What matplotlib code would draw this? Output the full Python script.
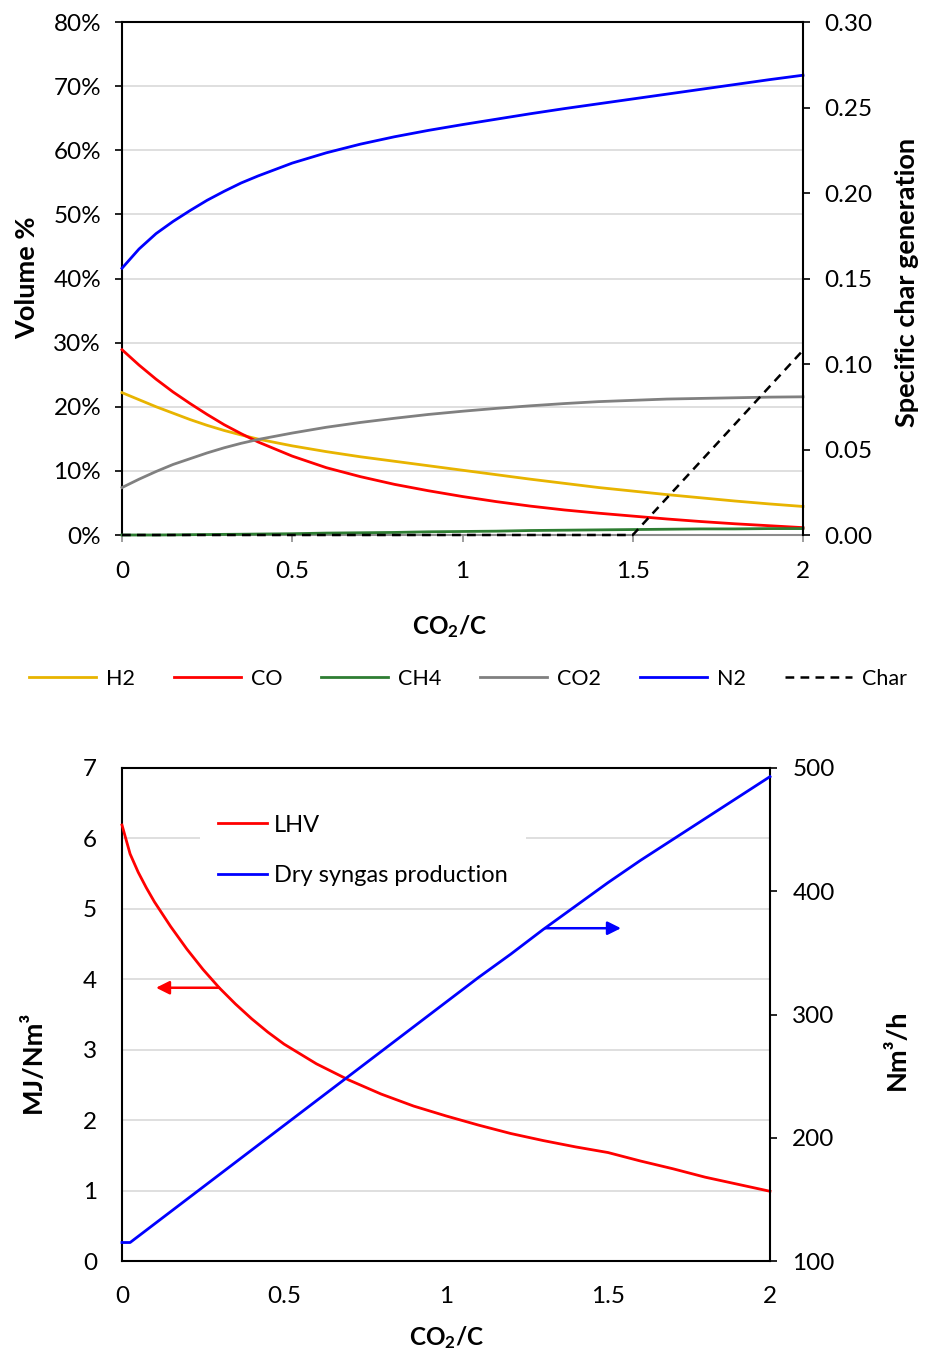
import matplotlib
matplotlib.use("Agg")
import matplotlib.pyplot as plt
from matplotlib.ticker import FixedLocator, FuncFormatter

plt.rcParams['font.family'] = ['Lato', 'DejaVu Sans']
plt.rcParams['mathtext.fontset'] = 'custom'
plt.rcParams['mathtext.rm'] = 'Lato'
plt.rcParams['mathtext.bf'] = 'Lato:bold'
plt.rcParams['mathtext.it'] = 'Lato:italic'

# ---------------- data: top chart ----------------
ratio = [0, 0.05, 0.1, 0.15, 0.2, 0.25, 0.3, 0.35, 0.4, 0.5, 0.6, 0.7, 0.8, 0.9, 1.0,
         1.1, 1.2, 1.3, 1.4, 1.5, 1.6, 1.7, 1.8, 1.9, 2.0]
h2 = [22.2, 21.1, 20.0, 19.0, 18.0, 17.1, 16.3, 15.6, 14.95, 13.9, 13.0, 12.2, 11.5, 10.8, 10.1,
      9.4, 8.7, 8.05, 7.4, 6.85, 6.3, 5.8, 5.3, 4.85, 4.45]
co = [28.9, 26.5, 24.3, 22.3, 20.5, 18.8, 17.2, 15.8, 14.5, 12.3, 10.5, 9.1, 7.9, 6.9, 6.0,
      5.2, 4.5, 3.9, 3.4, 2.95, 2.5, 2.1, 1.75, 1.45, 1.15]
ch4 = [0.0, 0.0, 0.0, 0.02, 0.05, 0.07, 0.1, 0.12, 0.15, 0.2, 0.3, 0.35, 0.4, 0.5, 0.55,
       0.6, 0.7, 0.75, 0.8, 0.85, 0.9, 0.95, 0.95, 1.0, 1.0]
co2 = [7.4, 8.7, 9.9, 11.0, 11.9, 12.8, 13.6, 14.3, 14.9, 15.9, 16.8, 17.55, 18.2, 18.8, 19.3,
       19.75, 20.15, 20.5, 20.8, 21.0, 21.2, 21.3, 21.4, 21.5, 21.55]
n2 = [41.6, 44.6, 47.0, 48.9, 50.6, 52.2, 53.6, 54.9, 56.0, 58.0, 59.6, 60.95, 62.1, 63.1, 64.0,
      64.85, 65.7, 66.5, 67.25, 68.0, 68.75, 69.5, 70.25, 71.0, 71.7]
char = [0, 0, 0, 0, 0, 0, 0, 0, 0, 0, 0, 0, 0, 0, 0,
        0, 0, 0, 0, 0, 0.0216, 0.0432, 0.0648, 0.0864, 0.108]

left_ticks_top = [0, 10, 20, 30, 40, 50, 60, 70, 80]
right_ticks_top = [0.00, 0.05, 0.10, 0.15, 0.20, 0.25, 0.30]
x_ticks = [0, 0.5, 1, 1.5, 2]
x_tick_labels = ['0', '0.5', '1', '1.5', '2']

# ---------------- data: bottom chart ----------------
ratio_b = [0, 0.025, 0.05, 0.075, 0.1, 0.15, 0.2, 0.25, 0.3, 0.35, 0.4, 0.45, 0.5, 0.6, 0.7,
           0.8, 0.9, 1.0, 1.1, 1.2, 1.3, 1.4, 1.5, 1.6, 1.7, 1.8, 1.9, 2.0]
lhv = [6.19, 5.78, 5.52, 5.30, 5.10, 4.75, 4.43, 4.14, 3.88, 3.65, 3.44, 3.25, 3.08, 2.80, 2.57,
       2.37, 2.20, 2.06, 1.93, 1.81, 1.71, 1.62, 1.54, 1.42, 1.31, 1.19, 1.09, 0.99]
syngas = [115, 115, 120, 125, 130, 140, 150, 160, 170, 180, 190, 200, 210, 230, 250,
          270, 290, 310, 330, 349, 369, 388, 407, 425, 442, 459, 476, 493]
left_ticks_bot = [0, 1, 2, 3, 4, 5, 6, 7]
right_ticks_bot = [100, 200, 300, 400, 500]

W, H = 926, 1353
fig = plt.figure(figsize=(W / 100, H / 100), dpi=100)


def rect(l, t, r, b):
    return [l / W, 1 - b / H, (r - l) / W, (b - t) / H]


GRID = '#d9d9d9'
LW = 2.0
TICK_FS = 17.5
LAB_FS = 19.5
XLAB_FS = 17.5

# ================= TOP CHART =================
ax1 = fig.add_axes(rect(122, 22, 803, 535))
ax1r = ax1.twinx()

series = [('H2', h2, '#e8b400'), ('CO', co, '#ff0000'), ('CH4', ch4, '#2e7d32'),
          ('CO2', co2, '#808080'), ('N2', n2, '#0000ff')]
handles = []
for name, vals, col in series:
    ln, = ax1.plot(ratio, vals, color=col, lw=LW, clip_on=False, zorder=3,
                   solid_joinstyle='round')
    handles.append(ln)
chl, = ax1r.plot(ratio, char, color='black', lw=1.8, ls=(0, (3.5, 2.5)),
                 clip_on=False, zorder=3)
handles.append(chl)

ax1.set_xlim(0, 2)
ax1.set_ylim(0, 80)
ax1r.set_ylim(0, 0.30)
ax1.yaxis.set_major_locator(FixedLocator(left_ticks_top))
ax1.yaxis.set_major_formatter(FuncFormatter(lambda v, p: f'{v:.0f}%'))
ax1r.yaxis.set_major_locator(FixedLocator(right_ticks_top))
ax1r.yaxis.set_major_formatter(FuncFormatter(lambda v, p: f'{v:.2f}'))
ax1.set_xticks(x_ticks)
ax1.set_xticklabels(x_tick_labels)
ax1.grid(axis='y', color=GRID, lw=1.2, zorder=0)
ax1.set_axisbelow(True)

for sp in ['left', 'top']:
    ax1.spines[sp].set_color('black')
    ax1.spines[sp].set_linewidth(1.5)
ax1.spines['right'].set_visible(False)
ax1.spines['bottom'].set_color('#8c8c8c')
ax1.spines['bottom'].set_linewidth(1.5)
for sp in ['left', 'top', 'bottom']:
    ax1r.spines[sp].set_visible(False)
ax1r.spines['right'].set_color('black')
ax1r.spines['right'].set_linewidth(1.5)

ax1.tick_params(axis='y', length=5, width=1.2, colors='black', labelsize=TICK_FS, pad=10)
ax1.tick_params(axis='x', length=5, width=1.2, color='#8c8c8c', labelcolor='black',
                labelsize=TICK_FS, pad=14)
ax1r.tick_params(axis='y', length=5, width=1.2, labelsize=TICK_FS, pad=10)

fig.text(27 / W, 1 - 278 / H, 'Volume %', rotation=90, ha='center', va='center',
         fontsize=LAB_FS, fontweight='bold')
fig.text(907 / W, 1 - 282 / H, 'Specific char generation', rotation=90, ha='center',
         va='center', fontsize=LAB_FS, fontweight='bold')
fig.text(450 / W, 1 - 627 / H, r'CO$_\mathbf{2}$/C', ha='center', va='center',
         fontsize=XLAB_FS, fontweight='bold')

fig.legend(handles, ['H2', 'CO', 'CH4', 'CO2', 'N2', 'Char'], loc='center',
           bbox_to_anchor=(468 / W, 1 - 679 / H), ncol=6, frameon=False,
           fontsize=15.5, handlelength=3.1, handletextpad=0.48, columnspacing=1.8)

# ================= BOTTOM CHART =================
ax2 = fig.add_axes(rect(122, 768, 770, 1261))
ax2r = ax2.twinx()

l_lhv, = ax2.plot(ratio_b, lhv, color='#ff0000', lw=LW, clip_on=False, zorder=3,
                  solid_joinstyle='round')
l_syn, = ax2r.plot(ratio_b, syngas, color='#0000ff', lw=LW, clip_on=False, zorder=3,
                   solid_joinstyle='round')

ax2.set_xlim(0, 2)
ax2.set_ylim(0, 7)
ax2r.set_ylim(100, 500)
ax2.yaxis.set_major_locator(FixedLocator(left_ticks_bot))
ax2r.yaxis.set_major_locator(FixedLocator(right_ticks_bot))
ax2.set_xticks(x_ticks)
ax2.set_xticklabels(x_tick_labels)
ax2.grid(axis='y', color=GRID, lw=1.2, zorder=0)
ax2.set_axisbelow(True)

for sp in ['left', 'top', 'bottom']:
    ax2.spines[sp].set_color('black')
    ax2.spines[sp].set_linewidth(1.5)
ax2.spines['right'].set_visible(False)
for sp in ['left', 'top', 'bottom']:
    ax2r.spines[sp].set_visible(False)
ax2r.spines['right'].set_color('black')
ax2r.spines['right'].set_linewidth(1.5)

ax2.tick_params(axis='y', length=0, labelsize=TICK_FS, pad=18)
ax2.tick_params(axis='x', length=0, labelsize=TICK_FS, pad=18)
ax2r.tick_params(axis='y', length=5, width=1.2, labelsize=TICK_FS, pad=11)

# direction arrows
ax2.annotate('', xy=(0.105, 3.88), xytext=(0.30, 3.88),
             arrowprops=dict(arrowstyle='-|>', color='#ff0000', lw=1.8,
                             mutation_scale=20, shrinkA=0, shrinkB=0))
ax2r.annotate('', xy=(1.54, 370), xytext=(1.306, 370),
              arrowprops=dict(arrowstyle='-|>', color='#0000ff', lw=1.8,
                              mutation_scale=20, shrinkA=0, shrinkB=0))

leg = ax2r.legend([l_lhv, l_syn], ['LHV', 'Dry syngas production'], loc='upper left',
                  bbox_to_anchor=((200 - 122) / 648, (1261 - 797) / 493),
                  frameon=True, facecolor='white', edgecolor='none', framealpha=1,
                  fontsize=17, handlelength=2.1, handletextpad=0.3, labelspacing=1.25,
                  borderpad=0.75, borderaxespad=0)

fig.text(33 / W, 1 - 1062 / H, 'MJ/Nm³', rotation=90, ha='center', va='center',
         fontsize=LAB_FS, fontweight='bold')
fig.text(897 / W, 1 - 1050 / H, 'Nm³/h', rotation=90, ha='center', va='center',
         fontsize=LAB_FS, fontweight='bold')
fig.text(447 / W, 1 - 1338 / H, r'CO$_\mathbf{2}$/C', ha='center', va='center',
         fontsize=XLAB_FS, fontweight='bold')

fig.savefig('out.png', dpi=100)
